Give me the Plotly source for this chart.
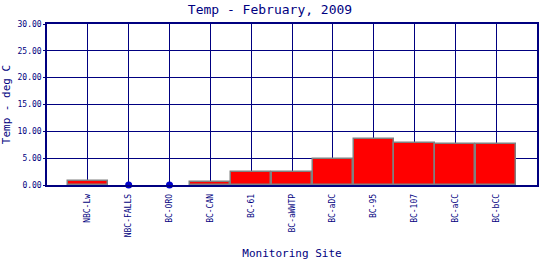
import plotly.graph_objects as go

sites = ["NBC-Lw", "NBC-FALLS", "BC-ORO", "BC-CAN", "BC-61", "BC-aWWTP",
         "BC-aDC", "BC-95", "BC-107", "BC-aCC", "BC-bCC"]
temps = [0.7, 0.0, 0.0, 0.5, 2.4, 2.4, 4.8, 8.5, 7.9, 7.6, 7.6]
y_ticks = [0, 5, 10, 15, 20, 25, 30]

navy = "#000080"
font = "DejaVu Sans Mono"

bar_vals = [v if v > 0 else None for v in temps]
zero_sites = [s for s, v in zip(sites, temps) if v == 0]
zero_vals = [v for v in temps if v == 0]

fig = go.Figure()
fig.add_trace(go.Bar(
    x=sites, y=bar_vals, width=0.98,
    marker=dict(color="#FF0000", line=dict(color="#808080", width=1.5)),
    showlegend=False,
))
fig.add_trace(go.Scatter(
    x=zero_sites, y=zero_vals, mode="markers",
    marker=dict(color="#0000CC", size=7),
    showlegend=False, cliponaxis=False,
))

fig.update_layout(
    width=540, height=260,
    margin=dict(l=47, r=3, t=24, b=75),
    paper_bgcolor="white", plot_bgcolor="white",
    title=dict(text="Temp - February, 2009", x=0.5, xanchor="center",
               y=0.965, yanchor="middle",
               font=dict(family=font, size=13, color=navy)),
    font=dict(family=font, color=navy),
    bargap=0,
)
fig.update_xaxes(
    type="category", categoryorder="array", categoryarray=sites,
    range=[-1, len(sites)], automargin=False,
    showgrid=True, gridcolor=navy, gridwidth=1,
    showline=True, linecolor=navy, linewidth=1.5, mirror=True,
    tickangle=-90, tickfont=dict(family=font, size=8, color=navy),
    ticks="", ticklen=0, ticklabelstandoff=4,
    title=dict(text="Monitoring Site", font=dict(family=font, size=11, color=navy), standoff=16),
)
fig.update_yaxes(
    range=[0, 30], tickvals=y_ticks, tickformat=".2f", automargin=False,
    showgrid=True, gridcolor=navy, gridwidth=1,
    showline=True, linecolor=navy, linewidth=1.5, mirror=True,
    zeroline=False, ticks="outside", ticklen=2, tickcolor=navy,
    tickfont=dict(family=font, size=8, color=navy),
    title=dict(text="Temp - deg C", font=dict(family=font, size=11, color=navy), standoff=6),
)

fig.write_html("out.html")
